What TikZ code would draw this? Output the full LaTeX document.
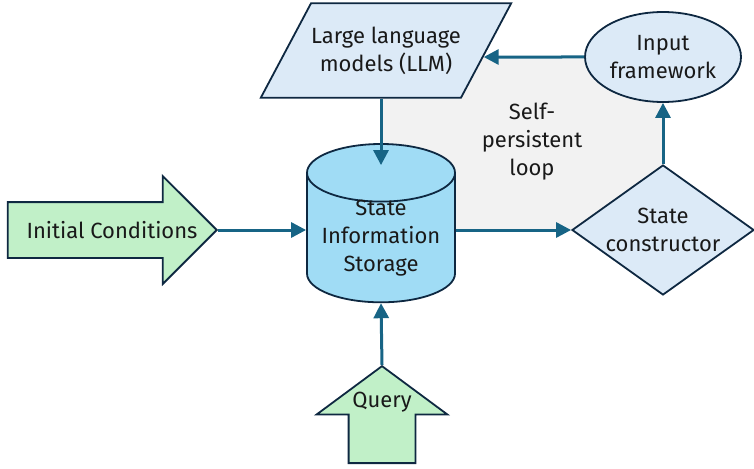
\documentclass[tikz,border=0pt]{standalone}
\usepackage{fontspec}
\setmainfont{Fira Sans}
\usetikzlibrary{shapes.geometric,shapes.arrows,arrows.meta,calc,backgrounds}

\definecolor{linkblue}{RGB}{23,100,133}
\definecolor{edgenavy}{RGB}{14,40,65}
\definecolor{paleblue}{RGB}{220,234,247}
\definecolor{skyblue}{RGB}{160,220,245}
\definecolor{palegreen}{RGB}{193,240,200}
\definecolor{loopgray}{RGB}{242,242,242}

\tikzset{
  txt/.style={align=center, inner sep=0pt, text=black!90, font=\fontsize{22}{28}\selectfont},
  box/.style={txt, draw=edgenavy, line width=1.8pt},
  link/.style={linkblue, line width=3pt, -{Triangle[length=15pt,width=15pt]}},
  bigarrow/.style={box, single arrow, fill=palegreen, single arrow head indent=0pt, anchor=tip},
}

\begin{document}
\begin{tikzpicture}[x=1pt,y=-1pt]
\useasboundingbox (0,0) rectangle (754,468);

\node[box, trapezium, trapezium left angle=62, trapezium right angle=118, trapezium stretches body, inner ysep=23.5pt, minimum width=208, minimum height=93, fill=paleblue] (llm) at (386,50.5) {Large language\\models (LLM)};
\node[box, cylinder, shape border rotate=90, aspect=0.48, minimum width=148, fill=skyblue] (sis) at (381,238) {\rule{120pt}{0pt}\rule{0pt}{71pt}};
\node[txt] (slbl) at (381,238.5) {State\\Information\\Storage};
\node[bigarrow, inner xsep=0pt, inner ysep=27pt, minimum height=209, single arrow head extend=26] (init) at (218,230) {};
\node[txt] (ilbl) at (112,230) {Initial Conditions};
\node[bigarrow, shape border rotate=90, inner sep=32.5pt, minimum height=97, single arrow head extend=32, single arrow tip angle=107] (qry) at (382,365) {};
\node[txt] (qlbl) at (382,402) {Query};
\node[box, diamond, aspect=1.43, minimum width=182, minimum height=130, fill=paleblue] (scn) at (663,230) {State\\constructor};
\node[box, ellipse, minimum width=156, minimum height=90, fill=paleblue] (ifw) at (663,57) {Input\\framework};
\node[txt] (loop) at (532,142) {Self-\\persistent\\loop};

% the loop
\draw[link] (sis.top |- llm.south) -- ($(sis.top)+(0,22)$);
\draw[link] (init.tip) -- (init.tip -| sis.west);
\draw[link] (qry.tip) -- (sis.bottom);
\draw[link] (scn.west -| sis.east) -- (scn.west);
\draw[link] (scn.north) -- (ifw.south);
\draw[link] (ifw.west) -- (intersection of llm.top right corner--llm.bottom right corner and ifw.west--ifw.east);

\begin{scope}[on background layer]
\fill[loopgray] (sis.top |- ifw.west) rectangle (scn.north |- scn.west);
\end{scope}

\end{tikzpicture}
\end{document}
